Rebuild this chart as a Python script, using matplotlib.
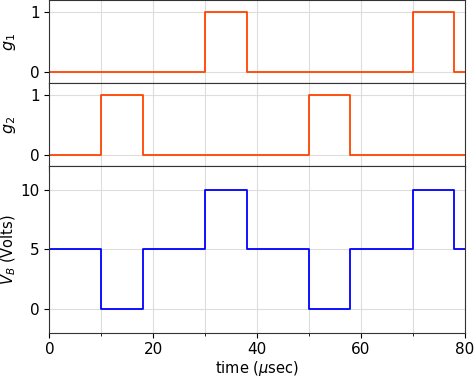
import numpy as np
import matplotlib
matplotlib.use("Agg")
import matplotlib.pyplot as plt
from matplotlib.ticker import MultipleLocator

# switching times (usec) and levels, step changes after each time
t = [0, 10, 18, 30, 38, 50, 58, 70, 78, 80]
g1 = [0, 0, 0, 1, 0, 0, 0, 1, 0, 0]
g2 = [0, 1, 0, 0, 0, 1, 0, 0, 0, 0]
vb = [5, 0, 5, 10, 5, 0, 5, 10, 5, 5]

plt.rcParams['font.size'] = 11

fig, (ax1, ax2, ax3) = plt.subplots(
    3, 1, sharex=True, figsize=(4.75, 3.77), dpi=100,
    gridspec_kw={'height_ratios': [1, 1, 2], 'hspace': 0})

ax1.step(t, g1, where='post', color='orangered', lw=1.3)
ax1.set_ylabel('$g_1$', fontsize=11.5, labelpad=2)
ax1.set_ylim(-0.2, 1.2)
ax1.set_yticks([0, 1])

ax2.step(t, g2, where='post', color='orangered', lw=1.3)
ax2.set_ylabel('$g_2$', fontsize=11.5, labelpad=2)
ax2.set_ylim(-0.2, 1.2)
ax2.set_yticks([0, 1])

ax3.step(t, vb, where='post', color='blue', lw=1.3)
ax3.set_ylabel('$V_B$ (Volts)', fontsize=10.5, labelpad=2)
ax3.set_ylim(-2, 12)
ax3.set_yticks([0, 5, 10])
ax3.set_xlim(0, 80)
ax3.xaxis.set_major_locator(MultipleLocator(20))
ax3.xaxis.set_minor_locator(MultipleLocator(10))
ax3.set_xlabel(r'time ($\mu$sec)', fontsize=10.5, labelpad=1)

for ax in (ax1, ax2, ax3):
    ax.grid(True, which='both', color='#dddddd', lw=0.8)
    for s in ax.spines.values():
        s.set_color('#333333')

fig.align_ylabels([ax1, ax2, ax3])
fig.subplots_adjust(left=0.104, right=0.978, top=0.999, bottom=0.118)
fig.savefig('out.png')
